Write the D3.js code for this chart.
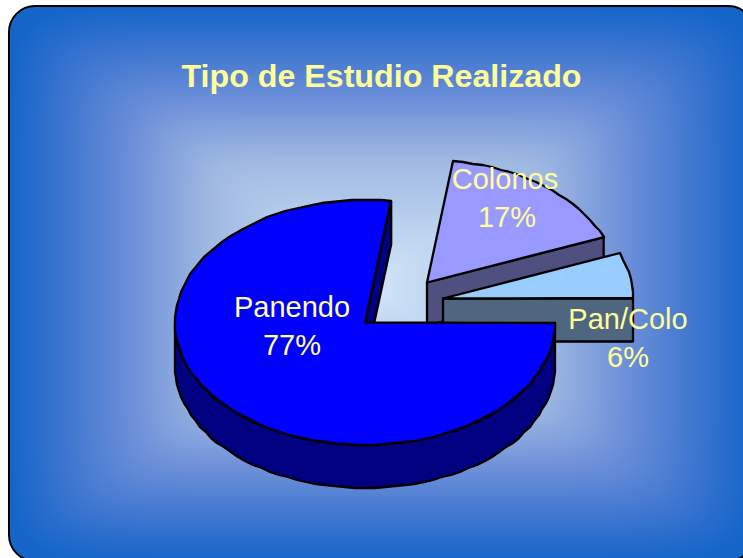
<!DOCTYPE html>
<html><head><meta charset="utf-8">
<script src="https://cdn.jsdelivr.net/npm/d3@7"></script>
<style>html,body{margin:0;padding:0;background:#fff;overflow:hidden}svg{display:block}text{font-family:"Liberation Sans",Arial,sans-serif}</style>
</head><body><div id="c"></div>
<script>
const categories = ["Panendo", "Colonos", "Pan/Colo"];
const percents = [77.2, 16.8, 6.0];
const title = "Tipo de Estudio Realizado";

const W = 743, H = 558;
const cx = 365, cy = 322.5, rx = 190, ry = 122.5, depth = 43;
const explode = [[0, 0], [62, -40], [78, -24]];
const labelPos = [[292, 317], [505, 188.5], [628, 328.5]];
const topFill = ["#0000ff", "#9999ff", "#99ccff"];
const sideFill = ["#000080", "#4f4f80", "#4f6680"];
const bgStops = [0, .14, .34, .55, .8, 1];
const bgColors = ["#1565c9", "#3a74cf", "#6e90d9", "#a0b9e2", "#bcd2ef", "#d2e5f9"];

const svg = d3.select("#c").append("svg").attr("width", W).attr("height", H);
const defs = svg.append("defs");

// Rectangular "path" gradient painted into a canvas, then used as the panel image
const box = {x0: 9, y0: 6, x1: 754, y1: 561, r: 26};
const gc = [372, 285];
const bgColor = d3.scaleLinear().domain(bgStops).range(bgColors).interpolate(d3.interpolateRgb);
const cv = document.createElement("canvas");
cv.width = W; cv.height = H;
const ctx = cv.getContext("2d");
const img = ctx.createImageData(W, H);
const p = 10;
for (let y = 0; y < H; y++) for (let x = 0; x < W; x++) {
  const ax = Math.abs(x - gc[0]) / (x < gc[0] ? gc[0] - box.x0 : box.x1 - gc[0]);
  const ay = Math.abs(y - gc[1]) / (y < gc[1] ? gc[1] - box.y0 : box.y1 - gc[1]);
  const t = Math.min(1, Math.pow(Math.pow(ax, p) + Math.pow(ay, p), 1 / p));
  const c = d3.rgb(bgColor(1 - t));
  const k = (y * W + x) * 4;
  img.data[k] = c.r; img.data[k + 1] = c.g; img.data[k + 2] = c.b; img.data[k + 3] = 255;
}
ctx.putImageData(img, 0, 0);
defs.append("clipPath").attr("id", "panel").append("rect")
  .attr("x", box.x0).attr("y", box.y0).attr("width", box.x1 - box.x0).attr("height", box.y1 - box.y0).attr("rx", box.r);
svg.append("image").attr("href", cv.toDataURL()).attr("width", W).attr("height", H).attr("clip-path", "url(#panel)");
svg.append("rect").attr("x", box.x0).attr("y", box.y0).attr("width", box.x1 - box.x0).attr("height", box.y1 - box.y0)
  .attr("rx", box.r).attr("fill", "none").attr("stroke", "#000").attr("stroke-width", 2);

svg.append("text").attr("x", 381.5).attr("y", 86.5).attr("text-anchor", "middle")
  .attr("font-size", 32.2).attr("font-weight", "bold").attr("fill", "#ffff99").text(title);

// Pie angles: clockwise from 3 o'clock
const arcs = d3.pie().sort(null).startAngle(Math.PI / 2).endAngle(Math.PI / 2 + 2 * Math.PI)(percents);
const sx = d3.scaleLinear().domain([-1, 1]).range([-rx, rx]);
const sy = d3.scaleLinear().domain([-1, 1]).range([-ry, ry]);
const pt = (a, i, dz = 0) => [cx + explode[i][0] + sx(Math.sin(a)), cy + explode[i][1] + sy(-Math.cos(a)) + dz];
const apex = (i, dz = 0) => [cx + explode[i][0], cy + explode[i][1] + dz];
const line = d3.line().curve(d3.curveLinear);
// rim points snapped to whole pixels: the source's edge is slightly stepped
const rim = (a0, a1, i, dz = 0) => {
  const n = Math.max(2, Math.round(Math.abs(a1 - a0) / (Math.PI / 60)));
  return d3.range(n + 1).map(k => pt(a0 + (a1 - a0) * k / n, i, dz).map(Math.round));
};
const draw = (pts, fill) => svg.append("path").attr("d", line(pts) + "Z").attr("fill", fill)
  .attr("stroke", "#000").attr("stroke-width", 2.3).attr("stroke-linejoin", "round");

// Colonos, back
{
  const a = arcs[1], i = 1;
  draw([apex(i), pt(a.endAngle, i), pt(a.endAngle, i, depth), apex(i, depth)], sideFill[i]);
  draw([apex(i), ...rim(a.startAngle, a.endAngle, i)], topFill[i]);
}
// Pan/Colo
{
  const a = arcs[2], i = 2;
  draw([apex(i), pt(a.endAngle, i), pt(a.endAngle, i, depth), apex(i, depth)], sideFill[i]);
  draw([apex(i), ...rim(a.startAngle, a.endAngle, i)], topFill[i]);
}
// Panendo, front
{
  const a = arcs[0], i = 0;
  draw([apex(i), pt(a.endAngle, i), pt(a.endAngle, i, depth), apex(i, depth)], sideFill[i]);
  const bottom = rim(Math.PI / 2, 3 * Math.PI / 2, i);
  const bottomLow = rim(3 * Math.PI / 2, Math.PI / 2, i, depth);
  draw([...bottom, ...bottomLow], sideFill[i]);
  draw([apex(i), ...rim(a.startAngle, a.endAngle, i)], topFill[i]);
}

// Labels
categories.forEach((c, i) => {
  const t = svg.append("text").attr("text-anchor", "middle").attr("font-size", 29).attr("fill", "#ffff99");
  t.append("tspan").attr("x", labelPos[i][0]).attr("y", labelPos[i][1]).text(c);
  t.append("tspan").attr("x", labelPos[i][0] + (i === 1 ? 2 : 0)).attr("y", labelPos[i][1] + 38).text(Math.round(percents[i]) + "%");
});
</script></body></html>
